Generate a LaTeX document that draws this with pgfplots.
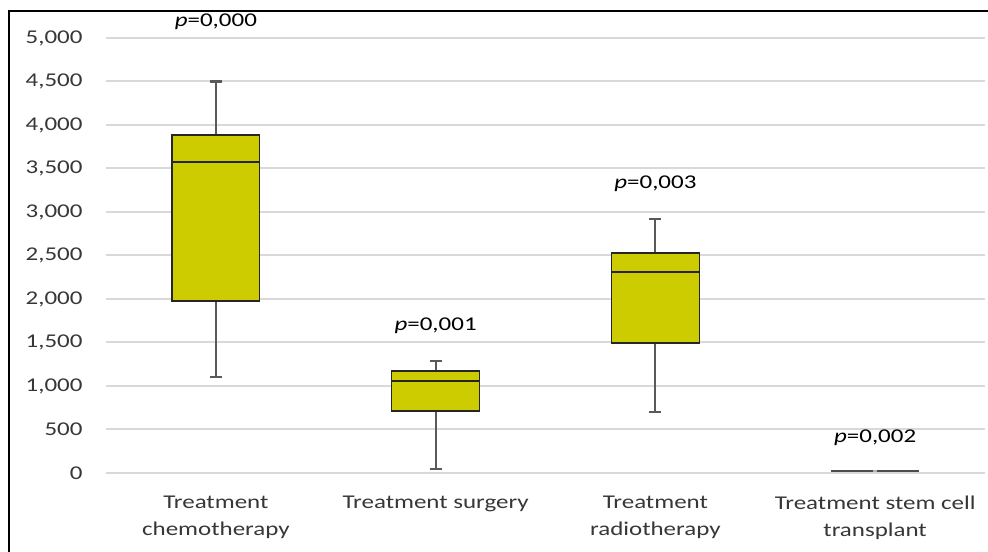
\documentclass[border=0pt]{standalone}
\usepackage{pgfplots}
\pgfplotsset{compat=1.18}
\usepackage{fontspec}
\setmainfont{Carlito}[FakeStretch=1.28]
\definecolor{boxfill}{RGB}{204,204,0}
\definecolor{gridc}{RGB}{217,217,217}
\definecolor{tickc}{RGB}{55,55,55}
\definecolor{whisk}{RGB}{89,89,89}
\begin{document}
\begin{tikzpicture}
\useasboundingbox (0,0) rectangle (988bp,552bp);
\fill[white] (0,0) rectangle (988bp,552bp);
\draw[line width=1.8bp] (9bp,-5bp) -- (9bp,541bp) -- (995bp,541bp);
\begin{axis}[
  at={(106bp,79bp)}, anchor=south west,
  scale only axis, width=879bp, height=435bp,
  xmin=-0.5, xmax=3.5, ymin=0, ymax=5000,
  clip=false,
  axis line style={draw=none},
  major tick length=0pt,
  ytick={0,500,...,5000},
  xtick={0,1,2,3},
  xticklabels={{Treatment\\chemotherapy},{Treatment surgery},{Treatment\\radiotherapy},{Treatment stem cell\\transplant}},
  xticklabel style={align=center, text=tickc, font=\fontsize{19.5bp}{27bp}\selectfont, yshift=-19bp},
  yticklabel style={text=tickc, font=\fontsize{19.5bp}{23bp}\selectfont, xshift=-20bp},
  ymajorgrids, grid style={gridc, line width=2bp},
  scaled y ticks=false,
  /pgf/number format/1000 sep={,},
  /pgf/number format/assume math mode=true,
  whisker/.style={draw=whisk, line width=2.2bp},
  box/.style={draw=black!85, fill=boxfill, line width=1.2bp},
  med/.style={draw=black!85, line width=1.5bp},
]
% Treatment chemotherapy: whiskers 1103 / 4500, box 1977-3885, median 3575
\addplot[whisker] coordinates {(0,1977) (0,1103)};
\addplot[whisker] coordinates {(-0.0275,1103) (0.0275,1103)};
\addplot[whisker] coordinates {(0,3885) (0,4500)};
\addplot[whisker] coordinates {(-0.0275,4500) (0.0275,4500)};
\addplot[box] coordinates {(-0.2,1977) (0.2,1977) (0.2,3885) (-0.2,3885)} --cycle;
\addplot[med] coordinates {(-0.2,3575) (0.2,3575)};
% Treatment surgery
\addplot[whisker] coordinates {(1,713) (1,46)};
\addplot[whisker] coordinates {(0.9725,46) (1.0275,46)};
\addplot[whisker] coordinates {(1,1172) (1,1287)};
\addplot[whisker] coordinates {(0.9725,1287) (1.0275,1287)};
\addplot[box] coordinates {(0.8,713) (1.2,713) (1.2,1172) (0.8,1172)} --cycle;
\addplot[med] coordinates {(0.8,1057) (1.2,1057)};
% Treatment radiotherapy
\addplot[whisker] coordinates {(2,1494) (2,701)};
\addplot[whisker] coordinates {(1.9725,701) (2.0275,701)};
\addplot[whisker] coordinates {(2,2529) (2,2920)};
\addplot[whisker] coordinates {(1.9725,2920) (2.0275,2920)};
\addplot[box] coordinates {(1.8,1494) (2.2,1494) (2.2,2529) (1.8,2529)} --cycle;
\addplot[med] coordinates {(1.8,2310) (2.2,2310)};
% Treatment stem cell transplant (collapsed box)
\addplot[draw=black!70, line width=1.8bp] coordinates {(2.8,20) (3.2,20)};
\addplot[draw=gray!60, line width=1.8bp] coordinates {(2.99,20) (3.01,20)};
\node[font=\fontsize{19.5bp}{23bp}\selectfont] at (axis cs:0,5190) {\textit{p}=0,000};
\node[font=\fontsize{19.5bp}{23bp}\selectfont] at (axis cs:1,1690) {\textit{p}=0,001};
\node[font=\fontsize{19.5bp}{23bp}\selectfont] at (axis cs:2,3320) {\textit{p}=0,003};
\node[font=\fontsize{19.5bp}{23bp}\selectfont] at (axis cs:3,405) {\textit{p}=0,002};
\end{axis}
\end{tikzpicture}
\end{document}
